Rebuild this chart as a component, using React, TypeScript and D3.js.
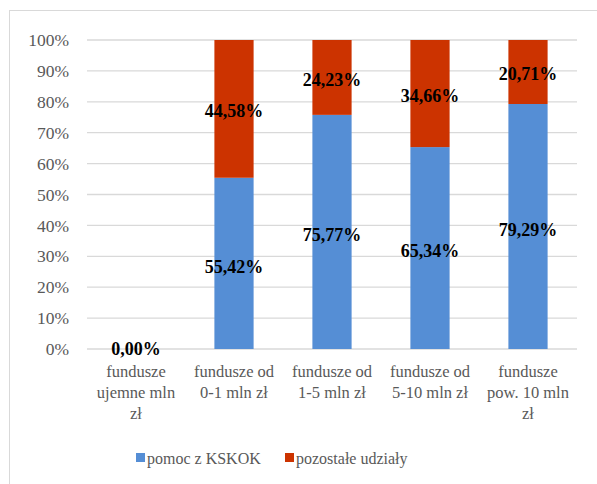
import React from "react";
import * as d3 from "d3";

const categories = [
  ["fundusze", "ujemne mln", "zł"],
  ["fundusze od", "0-1 mln zł"],
  ["fundusze od", "1-5 mln zł"],
  ["fundusze od", "5-10 mln zł"],
  ["fundusze", "pow. 10 mln", "zł"],
];
const pomoc = [0, 55.42, 75.77, 65.34, 79.29];
const pozostale = [0, 44.58, 24.23, 34.66, 20.71];
const yTicks = [0, 10, 20, 30, 40, 50, 60, 70, 80, 90, 100];
const seriesNames = ["pomoc z KSKOK", "pozostałe udziały"];
const colors = ["#558ED5", "#CC3300"];

const fmt = (v: number) => v.toFixed(2).replace(".", ",") + "%";

export default function App() {
  const W = 597, H = 484;
  const left = 87, right = 577, top = 40, bottom = 349;
  const x = d3.scaleBand<number>().domain(d3.range(categories.length)).range([left, right]).paddingInner(0.6).paddingOuter(0.3);
  const y = d3.scaleLinear().domain([0, 100]).range([bottom, top]);
  const font = "'Times New Roman', Times, serif";
  const band = (right - left) / categories.length;
  const ts = { fontFamily: font };
  return (
    <svg width={W} height={H} style={{ position: "absolute", left: 0, top: 0, fontFamily: font }}>
      <rect x={0} y={0} width={W} height={H} fill="#fff" />
      <rect x={9.5} y={10.5} width={W} height={H} fill="none" stroke="#D9D9D9" strokeWidth={1} />
      {yTicks.map((t) => (
        <g key={t}>
          <line x1={left} x2={right} y1={y(t)} y2={y(t)} stroke="#D9D9D9" strokeWidth={1.3} />
          <text style={ts} x={69} y={y(t)} dy="0.35em" textAnchor="end" fontSize={17.5} fill="#595959">{t}%</text>
        </g>
      ))}
      {categories.map((c, i) => {
        const bx = x(i)!;
        const bw = x.bandwidth();
        const cx = left + band * (i + 0.5);
        const y0 = y(0), y1 = y(pomoc[i]), y2 = y(pomoc[i] + pozostale[i]);
        const total = pomoc[i] + pozostale[i];
        return (
          <g key={i}>
            {pomoc[i] > 0 && <rect x={bx} y={y1} width={bw} height={y0 - y1} fill={colors[0]} />}
            {pozostale[i] > 0 && <rect x={bx} y={y2} width={bw} height={y1 - y2} fill={colors[1]} />}
            {total === 0 ? (
              <text style={ts} x={cx} y={y(0)} dy="0.35em" textAnchor="middle" fontSize={18} fontWeight="bold" fill="#000">{fmt(0)}</text>
            ) : (
              <>
                <text style={ts} x={cx} y={(y0 + y1) / 2 + 3} dy="0.35em" textAnchor="middle" fontSize={18} fontWeight="bold" fill="#000">{fmt(pomoc[i])}</text>
                <text style={ts} x={cx} y={(y1 + y2) / 2 + 2} dy="0.35em" textAnchor="middle" fontSize={18} fontWeight="bold" fill="#000">{fmt(pozostale[i])}</text>
              </>
            )}
            {c.map((line, j) => (
              <text style={ts} key={j} x={cx} y={371 + j * 21} dy="0.35em" textAnchor="middle" fontSize={16.5} fill="#595959">{line}</text>
            ))}
          </g>
        );
      })}
      <g>
        <rect x={136} y={453} width={9} height={9} fill={colors[0]} />
        <text style={ts} x={147} y={458} dy="0.35em" fontSize={16} fill="#595959">{seriesNames[0]}</text>
        <rect x={285} y={453} width={9} height={9} fill={colors[1]} />
        <text style={ts} x={296} y={458} dy="0.35em" fontSize={16} fill="#595959">{seriesNames[1]}</text>
      </g>
    </svg>
  );
}
